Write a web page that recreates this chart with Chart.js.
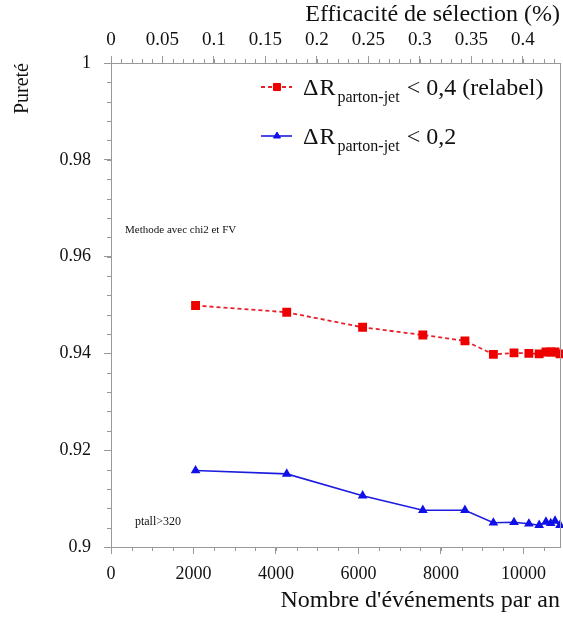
<!DOCTYPE html>
<html>
<head>
<meta charset="utf-8">
<script src="https://cdn.jsdelivr.net/npm/chart.js@4/dist/chart.umd.min.js"></script>
<style>
  html, body { margin: 0; padding: 0; background: #fff; overflow: hidden; }
  canvas { display: block; }
</style>
</head>
<body>
<canvas id="chartPurete" width="563" height="619"></canvas>
<script>
// --- données ---
const evenements = [2050, 4260, 6100, 7560, 8580, 9270, 9770, 10130, 10380, 10545, 10660, 10765, 10885];
const pureteRelabel = [0.9499, 0.9485, 0.9454, 0.9438, 0.9426, 0.9398, 0.9401, 0.9400, 0.9399, 0.9403, 0.9403, 0.9403, 0.9399];
const purete02 = [0.9158, 0.9151, 0.9106, 0.9076, 0.9076, 0.9050, 0.9051, 0.9048, 0.9045, 0.9052, 0.9049, 0.9054, 0.9045];

const ticksEvenements = [0, 2000, 4000, 6000, 8000, 10000];
const ticksEfficacite = [0, 0.05, 0.1, 0.15, 0.2, 0.25, 0.3, 0.35, 0.4];
const labelsEfficacite = ['0', '0.05', '0.1', '0.15', '0.2', '0.25', '0.3', '0.35', '0.4'];
const ticksPurete = [0.9, 0.92, 0.94, 0.96, 0.98, 1];
const labelsPurete = ['0.9', '0.92', '0.94', '0.96', '0.98', '1'];

const xMax = 10885;
const effMax = 0.436;

const police = '"Liberation Serif", "DejaVu Serif", serif';
const gris = '#999';

// petites graduations + cadre droit + légende + annotations
const decorPlugin = {
    id: 'decor',
    afterDraw(chart) {
        const ctx = chart.ctx;
        const area = chart.chartArea;
        const sx = chart.scales.x;
        const sy = chart.scales.y;
        const st = chart.scales.xTop;

        ctx.save();
        ctx.strokeStyle = gris;
        ctx.lineWidth = 1;
        ctx.beginPath();
        for (let v = 0; v <= xMax; v += 500) {
            const px = Math.round(sx.getPixelForValue(v)) + 0.5;
            ctx.moveTo(px, area.bottom);
            ctx.lineTo(px, area.bottom + 4);
        }
        for (let i = 0; i <= 43; i++) {
            const px = Math.round(st.getPixelForValue(i / 100)) + 0.5;
            ctx.moveTo(px, area.top);
            ctx.lineTo(px, area.top - 4);
        }
        for (let i = 0; i <= 25; i++) {
            const py = Math.round(sy.getPixelForValue(0.9 + i * 0.004)) + 0.5;
            ctx.moveTo(area.left, py);
            ctx.lineTo(area.left - 4, py);
        }
        // cadre droit
        ctx.moveTo(Math.round(area.right) + 0.5, area.top);
        ctx.lineTo(Math.round(area.right) + 0.5, area.bottom);
        ctx.stroke();

        // annotations
        ctx.fillStyle = '#111';
        ctx.textBaseline = 'middle';
        ctx.textAlign = 'left';
        ctx.font = '11px ' + police;
        ctx.fillText('Methode avec chi2 et FV', sx.getPixelForValue(340), sy.getPixelForValue(0.9655));
        ctx.font = '12px ' + police;
        ctx.fillText('ptall>320', sx.getPixelForValue(580), sy.getPixelForValue(0.9053));

        // légende
        const entrees = [
            { ds: chart.data.datasets[0], suite: '< 0,4 (relabel)', y: 87 },
            { ds: chart.data.datasets[1], suite: '< 0,2', y: 136 }
        ];
        entrees.forEach(e => {
            ctx.save();
            ctx.strokeStyle = e.ds.borderColor;
            ctx.lineWidth = e.ds.borderWidth;
            ctx.setLineDash(e.ds.borderDash || []);
            ctx.beginPath();
            ctx.moveTo(261, e.y);
            ctx.lineTo(292, e.y);
            ctx.stroke();
            ctx.restore();
            ctx.fillStyle = e.ds.pointBackgroundColor;
            ctx.strokeStyle = e.ds.pointBorderColor;
            Chart.helpers.drawPoint(ctx, {
                pointStyle: e.ds.pointStyle,
                radius: e.ds.pointRadius,
                rotation: 0,
                borderWidth: 1
            }, 277, e.y);

            ctx.fillStyle = '#111';
            ctx.textBaseline = 'alphabetic';
            const base = e.y + 8;
            let x = 303;
            ctx.font = '24px ' + police;
            ctx.fillText('Δ', x, base);
            x += ctx.measureText('Δ').width + 1;
            ctx.fillText('R', x, base);
            x += ctx.measureText('R').width + 2;
            ctx.font = '16px ' + police;
            ctx.fillText('parton-jet', x, base + 7);
            x += ctx.measureText('parton-jet').width + 7;
            ctx.font = '24px ' + police;
            ctx.fillText(e.suite, x, base);
        });
        ctx.restore();
    }
};

const canvas = document.getElementById('chartPurete');

new Chart(canvas, {
    type: 'line',
    data: {
        datasets: [{
            label: 'ΔR parton-jet < 0,4 (relabel)',
            data: evenements.map((x, i) => ({ x: x, y: pureteRelabel[i] })),
            borderColor: '#e8202a',
            borderWidth: 1.8,
            borderDash: [4, 3],
            pointStyle: 'rect',
            pointRadius: 5,
            pointBackgroundColor: '#ee0000',
            pointBorderColor: '#ee0000',
            tension: 0,
            xAxisID: 'x',
            yAxisID: 'y'
        }, {
            label: 'ΔR parton-jet < 0,2',
            data: evenements.map((x, i) => ({ x: x, y: purete02[i] })),
            borderColor: '#1c1ce0',
            borderWidth: 1.6,
            pointStyle: 'triangle',
            pointRadius: 4,
            pointBackgroundColor: '#1010e8',
            pointBorderColor: '#1010e8',
            tension: 0,
            xAxisID: 'x',
            yAxisID: 'y'
        }]
    },
    options: {
        responsive: false,
        animation: false,
        clip: false,
        layout: {
            autoPadding: false,
            padding: { top: 0, right: 3, bottom: 0, left: 0 }
        },
        plugins: {
            legend: { display: false },
            tooltip: { enabled: false }
        },
        scales: {
            x: {
                type: 'linear',
                position: 'bottom',
                min: 0,
                max: xMax,
                afterBuildTicks: s => { s.ticks = ticksEvenements.map(v => ({ value: v })); },
                afterFit: s => { s.height = 72; },
                border: { color: gris, width: 1 },
                grid: { drawOnChartArea: false, drawTicks: true, tickLength: 7, color: gris },
                ticks: {
                    color: '#111',
                    padding: 9,
                    maxRotation: 0,
                    font: { family: police, size: 18 },
                    callback: v => String(v)
                },
                title: {
                    display: true,
                    text: "Nombre d'événements par an",
                    align: 'end',
                    color: '#111',
                    padding: { top: 0, bottom: 4 },
                    font: { family: police, size: 24 }
                }
            },
            xTop: {
                type: 'linear',
                position: 'top',
                min: 0,
                max: effMax,
                afterBuildTicks: s => { s.ticks = ticksEfficacite.map(v => ({ value: v })); },
                afterFit: s => { s.height = 63; },
                border: { color: gris, width: 1 },
                grid: { drawOnChartArea: false, drawTicks: true, tickLength: 7, color: gris },
                ticks: {
                    color: '#111',
                    padding: 5,
                    maxRotation: 0,
                    font: { family: police, size: 19 },
                    callback: (v, i) => labelsEfficacite[i]
                },
                title: {
                    display: true,
                    text: 'Efficacité de sélection (%)',
                    align: 'end',
                    color: '#111',
                    padding: { top: 0, bottom: 0 },
                    font: { family: police, size: 24 }
                }
            },
            y: {
                type: 'linear',
                position: 'left',
                min: 0.9,
                max: 1,
                afterBuildTicks: s => { s.ticks = ticksPurete.map(v => ({ value: v })); },
                afterFit: s => { s.width = 111; },
                border: { color: gris, width: 1 },
                grid: { drawOnChartArea: false, drawTicks: true, tickLength: 7, color: gris },
                ticks: {
                    color: '#111',
                    padding: 13,
                    font: { family: police, size: 18 },
                    callback: (v, i) => labelsPurete[i]
                },
                title: {
                    display: true,
                    text: 'Pureté',
                    align: 'end',
                    color: '#111',
                    padding: { top: 11, bottom: 0 },
                    font: { family: police, size: 20 }
                }
            }
        }
    },
    plugins: [decorPlugin]
});
</script>
</body>
</html>
